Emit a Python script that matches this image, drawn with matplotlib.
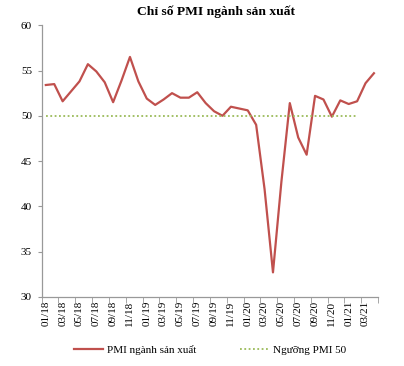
import matplotlib
matplotlib.use("Agg")
import matplotlib.pyplot as plt
import numpy as np

# Chỉ số PMI ngành sản xuất, 01/2018 - 04/2021
thang = ["01/18", "02/18", "03/18", "04/18", "05/18", "06/18", "07/18", "08/18",
         "09/18", "10/18", "11/18", "12/18", "01/19", "02/19", "03/19", "04/19",
         "05/19", "06/19", "07/19", "08/19", "09/19", "10/19", "11/19", "12/19",
         "01/20", "02/20", "03/20", "04/20", "05/20", "06/20", "07/20", "08/20",
         "09/20", "10/20", "11/20", "12/20", "01/21", "02/21", "03/21", "04/21"]
pmi = [53.4, 53.5, 51.6, 52.7, 53.8, 55.7, 54.9, 53.7, 51.5, 53.9, 56.5, 53.8,
       51.9, 51.2, 51.8, 52.5, 52.0, 52.0, 52.6, 51.4, 50.5, 50.0, 51.0, 50.8,
       50.6, 49.0, 41.9, 32.7, 42.7, 51.4, 47.6, 45.7, 52.2, 51.8, 49.9, 51.7,
       51.3, 51.6, 53.6, 54.7]
nguong = [50] * 38  # đường ngưỡng tới 02/21

plt.rcParams['font.family'] = ['Liberation Serif', 'DejaVu Serif']

fig = plt.figure(figsize=(4.04, 3.66), dpi=100)
ax = fig.add_axes([0.103, 0.189, 0.833, 0.742])

x = np.arange(len(thang))
ax.plot(x, pmi, color='#C0504D', lw=1.6, label='PMI ngành sản xuất')
ax.plot(np.arange(len(nguong)), nguong, color='#9BBB59', lw=1.3,
        linestyle=(0, (1, 1.4)), label='Ngưỡng PMI 50')

ax.set_xlim(-0.5, len(thang) - 0.5)
ax.set_ylim(30, 60)
ax.set_yticks(range(30, 61, 5))
ax.set_xticks(x[::2])
ax.set_xticklabels(thang[::2], rotation=90)
ax.set_xticks(np.arange(-0.5, len(thang), 2), minor=True)

for s in ['top', 'right']:
    ax.spines[s].set_visible(False)
for s in ['left', 'bottom']:
    ax.spines[s].set_color('#999999')
    ax.spines[s].set_linewidth(0.9)

ax.tick_params(axis='x', which='major', length=0, labelsize=8, pad=3)
ax.tick_params(axis='x', which='minor', length=4, color='#999999')
ax.tick_params(axis='y', length=3, color='#999999', labelsize=8, pad=4)

fig.text(216 / 404, 1 - 12 / 366, 'Chỉ số PMI ngành sản xuất', ha='center', va='center',
         fontsize=9.7, fontweight='bold')

fig.legend(loc='center', bbox_to_anchor=(210 / 404, 1 - 350 / 366), ncol=2, frameon=False,
           fontsize=8, handlelength=2.6, handletextpad=0.35, columnspacing=4.0)

fig.savefig('out.png', dpi=100)
